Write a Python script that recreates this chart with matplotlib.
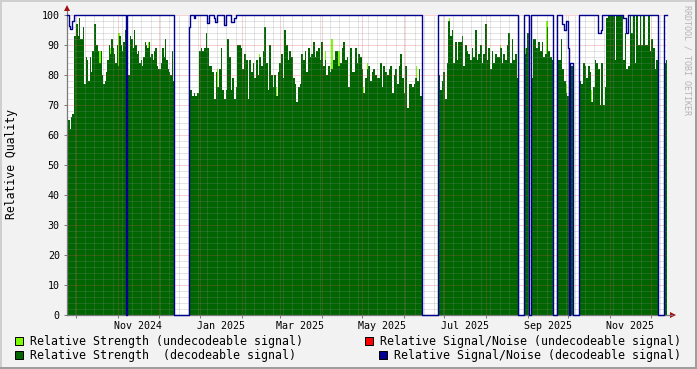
"""RRDtool-style relative quality graph redrawn with matplotlib."""

import datetime as dt

import matplotlib
matplotlib.use("Agg")
import matplotlib.dates as mdates
import matplotlib.pyplot as plt
from matplotlib.lines import Line2D
from matplotlib.patches import Rectangle
from matplotlib.ticker import FixedFormatter, FixedLocator, NullFormatter

W, H = 697, 369
BACK = "#f2f2f2"
GREEN = "#006400"
LIME = "#7cfc00"
RED = "#ff0000"
BLUE = "#000090"
ARROW = "#a01010"
AXIS = "#7a7a7a"
GRID = (0.55, 0.55, 0.55, 0.45)
MGRID = (0.87, 0.31, 0.31, 0.5)
MONO = "DejaVu Sans Mono"

START = dt.datetime(2024, 9, 24)
END = dt.datetime(2025, 12, 13, 2)

# periods that have data (white gaps in between)
seg_start = ["2024-09-24 00:00", "2024-12-23 08:00", "2025-06-26 08:00", "2025-08-29 06:00",
             "2025-09-03 11:00", "2025-09-22 19:00", "2025-10-02 05:00", "2025-10-09 04:00",
             "2025-12-10 14:00"]
seg_end = ["2024-12-12 13:00", "2025-06-14 10:00", "2025-08-24 19:00", "2025-09-01 12:00",
           "2025-09-19 19:00", "2025-10-01 12:00", "2025-10-04 05:00", "2025-12-06 10:00",
           "2025-12-13 02:00"]

# relative strength (decodeable), readings spread evenly over each period
strength_1 = [66, 65, 62, 66, 67, 93, 93, 97, 93, 99, 92, 92, 96, 77, 86, 85, 78, 86, 81, 88,
              97, 97, 90, 88, 84, 88, 80, 77, 78, 81, 85, 90, 87, 92, 89, 87, 84, 90, 83, 93,
              90, 88, 91, 95, 93, 80, 80, 93, 92, 89, 95, 90, 87, 88, 84, 85, 83, 86, 91, 90,
              89, 91, 86, 87, 85, 88, 89, 83, 82, 82, 84, 89, 86, 92, 85, 82, 81, 80, 88, 78]
strength_2 = [75, 75, 73, 74,
              73, 74, 88, 89, 88, 89, 94, 89, 83, 83, 81, 72, 81, 76, 82, 89, 75, 72, 75, 92,
              86, 75, 79, 72, 76, 90, 90, 89, 82, 87, 85, 72, 85, 81, 84, 79, 85, 80, 86, 83,
              88, 96, 84, 75, 90, 80, 76, 80, 73, 81, 84, 87, 79, 95, 90, 85, 88, 86, 79, 77,
              71, 76, 77, 87, 85, 88, 81, 89, 86, 87, 91, 86, 88, 89, 85, 91, 83, 85, 80, 83,
              81,
              82, 85, 88, 88, 83, 84, 89, 91, 85, 86, 76, 89, 81, 81, 89, 84, 87, 86, 82, 74,
              79, 82, 83, 78, 81, 82, 80, 79, 79, 84, 76, 83, 81, 80, 82, 83, 74, 80, 82, 77,
              83, 87, 79, 74, 83, 69, 77, 77, 76, 77, 79, 78, 82, 73]
strength_3 = [80, 75, 78, 81, 72, 84, 98, 93, 95, 84, 91, 85, 91, 91, 93, 83, 90, 88, 87, 85,
              89, 86, 95, 85, 87, 90, 84, 87, 97, 85, 89, 82, 88, 84, 87, 86, 86, 89, 84, 87,
              85, 90, 94, 84, 92, 85, 87, 79]
strength_4 = [87, 89, 94]
strength_5 = [79, 92, 92, 89, 91, 88, 91, 86, 87, 96, 88, 86, 85]
strength_6 = [85, 85, 92, 82, 78, 74, 73]
strength_7 = [82, 83]
strength_8 = [78, 77, 84, 83, 79, 83, 81, 71, 76, 85, 84, 82, 70, 84, 70, 76, 99, 100, 100, 100,
              100, 85, 100, 100, 100, 100, 85, 94, 82, 83, 100, 94, 100, 84, 100, 90, 100, 90,
              100, 90, 90, 100, 88, 92, 89, 82, 85]
strength_9 = [83, 84, 85]
strength = [strength_1, strength_2, strength_3, strength_4, strength_5, strength_6,
            strength_7, strength_8, strength_9]

# relative strength (undecodeable) where it pokes above the decodeable area
weak_dates = ["2024-09-25 21:00", "2024-10-18 12:00", "2024-10-26 00:00", "2024-11-01 12:00",
              "2024-11-14 19:00", "2024-11-23 10:00", "2025-01-13 12:00", "2025-02-14 00:00",
              "2025-02-26 00:00", "2025-03-29 14:00", "2025-04-03 19:00", "2025-04-08 12:00",
              "2025-04-13 17:00", "2025-04-17 10:00", "2025-04-26 02:00", "2025-04-28 00:00",
              "2025-05-02 00:00", "2025-05-05 00:00", "2025-05-09 12:00", "2025-06-02 12:00",
              "2025-06-10 12:00", "2025-07-05 00:00", "2025-08-11 14:00", "2025-08-30 00:00",
              "2025-09-15 00:00", "2025-09-29 07:00", "2025-10-17 19:00"]
weak_values = [64, 88, 89, 94, 89, 91, 82, 87, 76, 89, 88, 92, 88, 87, 86, 87, 76, 84, 81, 71,
               83, 99, 90, 89, 98, 77, 75]

# relative signal/noise (decodeable): 100 inside the periods except these dips
snr_dip_start = ["2024-09-25 06:00", "2024-09-26 11:00", "2024-09-27 23:00", "2024-11-07 00:00",
                 "2024-12-23 08:00", "2024-12-26 22:00", "2025-01-05 22:00", "2025-01-10 19:00",
                 "2025-01-11 17:00", "2025-01-18 05:00", "2025-01-23 22:00", "2025-01-25 19:00",
                 "2025-09-26 02:00", "2025-09-27 19:00", "2025-09-29 07:00", "2025-09-30 10:00",
                 "2025-10-02 05:00", "2025-10-22 19:00", "2025-10-25 07:00", "2025-11-10 10:00",
                 "2025-11-12 10:00"]
snr_dip_end = ["2024-09-26 11:00", "2024-09-27 23:00", "2024-09-28 23:00", "2024-11-07 17:00",
               "2024-12-24 02:00", "2024-12-27 22:00", "2025-01-07 14:00", "2025-01-11 17:00",
               "2025-01-13 07:00", "2025-01-20 00:00", "2025-01-25 19:00", "2025-01-27 10:00",
               "2025-09-27 19:00", "2025-09-29 07:00", "2025-09-30 10:00", "2025-10-01 12:00",
               "2025-10-04 05:00", "2025-10-25 07:00", "2025-10-26 00:00", "2025-11-12 10:00",
               "2025-11-14 02:00"]
snr_dip_value = [96.5, 95.5, 98, 0, 96, 99, 97.2, 99, 97.8, 96.7, 97.8, 99,
                 97, 95, 98, 89, 84, 94, 95, 99, 94]

tick_labels = ["Nov 2024", "Jan 2025", "Mar 2025", "May 2025", "Jul 2025", "Sep 2025", "Nov 2025"]
legend_labels = ["Relative Strength (undecodeable signal)",
                 "Relative Signal/Noise (undecodeable signal)",
                 "Relative Strength  (decodeable signal)",
                 "Relative Signal/Noise (decodeable signal)"]


def num(text):
    return mdates.date2num(dt.datetime.fromisoformat(text))


plt.rcParams["lines.scale_dashes"] = False

fig = plt.figure(figsize=(W / 100, H / 100), dpi=100, facecolor=BACK)
ax = fig.add_axes([67 / W, 54 / H, 600 / W, 300 / H])
ax.set_facecolor("white")
for spine in ax.spines.values():
    spine.set_visible(False)
x0, x1 = mdates.date2num(START), mdates.date2num(END)
ax.set_xlim(x0, x1)
ax.set_ylim(0, 100)

# undecodeable strength first, decodeable area on top of it
ax.bar([num(d) for d in weak_dates], weak_values, width=0.9, color=LIME, linewidth=0, zorder=1)
bounds = []
for a, b, vals in zip(seg_start, seg_end, strength):
    s, e = num(a), num(b)
    bounds.append((s, e))
    n = len(vals)
    edges = [s + (e - s) * i / n for i in range(n + 1)]
    ax.fill_between(edges, vals + [vals[-1]], 0, step="post", color=GREEN, linewidth=0, zorder=2)

# grid: weekly / every 2 minor, monthly / every 10 major, 1px on 1px off
grid_kw = dict(lw=0.72, ls=(0, (0.72, 0.72)), zorder=3)
day = START
while day <= END:
    if day.weekday() == 0 and day.day != 1:
        ax.axvline(mdates.date2num(day), color=GRID, **grid_kw)
    if day.day == 1:
        ax.axvline(mdates.date2num(day), color=MGRID, **grid_kw)
    day += dt.timedelta(days=1)
for y in range(2, 101, 2):
    ax.axhline(y, color=MGRID if y % 10 == 0 else GRID, **grid_kw)

# axes with arrows
ax.plot([0, 0], [0, 1.012], transform=ax.transAxes, color=AXIS, lw=0.9, clip_on=False, zorder=4)
ax.plot([0, 1.008], [0, 0], transform=ax.transAxes, color=AXIS, lw=0.9, clip_on=False, zorder=4)
ax.plot(0, 1.022, marker="^", ms=4.5, color=ARROW, mew=0, transform=ax.transAxes, clip_on=False)
ax.plot(1.010, 0, marker=">", ms=4.5, color=ARROW, mew=0, transform=ax.transAxes, clip_on=False)

# signal/noise line: 0 in the gaps, 100 with dips inside periods
dips = [(num(a), num(b), v) for a, b, v in zip(snr_dip_start, snr_dip_end, snr_dip_value)]
knots = sorted({x0, x1} | {p for se in bounds for p in se} | {p for d in dips for p in d[:2]})
snr = []
for a, b in zip(knots[:-1], knots[1:]):
    mid = (a + b) / 2
    v = 0
    if any(s <= mid < e for s, e in bounds):
        v = 100
        for ds, de, dv in dips:
            if ds <= mid < de:
                v = dv
    snr.append(v)
ax.step(knots, snr + [snr[-1]], where="post", color=BLUE, lw=1.0, zorder=5, clip_on=False)

# ticks
ax.xaxis.set_major_locator(mdates.MonthLocator())
ax.xaxis.set_major_formatter(NullFormatter())
label_pos = [mdates.date2num(dt.datetime.strptime(t, "%b %Y") + dt.timedelta(days=15))
             for t in tick_labels]
ax.xaxis.set_minor_locator(FixedLocator(label_pos))
ax.xaxis.set_minor_formatter(FixedFormatter(tick_labels))
ax.tick_params(axis="x", which="major", length=2.2, width=0.7, color=AXIS)
ax.tick_params(axis="x", which="minor", length=0, pad=4)
ax.set_yticks(range(0, 101, 10))
ax.tick_params(axis="y", length=2.2, width=0.7, color=AXIS, pad=3)
for lab in ax.get_xticklabels(which="minor") + ax.get_yticklabels():
    lab.set_fontfamily(MONO)
    lab.set_fontsize(7.2)

fig.text(12 / W, 1 - 164 / H, "Relative Quality", rotation=90, ha="center", va="center",
         fontfamily=MONO, fontsize=8.3)
fig.text(687 / W, 1 - 60 / H, "RRDTOOL / TOBI OETIKER", rotation=270, ha="center",
         va="center", fontfamily=MONO, fontsize=6, color="#b4b4b4")

# legend, two rows like rrdtool
legend_pos = [(15, 341, 30), (365, 341, 380), (15, 355, 30), (379, 355, 394)]
for (bx, cy, tx), label, color in zip(legend_pos, legend_labels, [LIME, RED, GREEN, BLUE]):
    fig.add_artist(Rectangle((bx / W, 1 - (cy + 4) / H), 8 / W, 8 / H, facecolor=color,
                             edgecolor="black", lw=0.72, transform=fig.transFigure))
    fig.text(tx / W, 1 - cy / H, label, ha="left", va="center", fontfamily=MONO, fontsize=8.35)

# shaded frame
fig.add_artist(Line2D([0, 1], [1 - 1 / H, 1 - 1 / H], color="#cfcfcf", lw=1.44))
fig.add_artist(Line2D([1 / W, 1 / W], [0, 1], color="#cfcfcf", lw=1.44))
fig.add_artist(Line2D([0, 1], [1 / H, 1 / H], color="#9e9e9e", lw=1.44))
fig.add_artist(Line2D([1 - 1 / W, 1 - 1 / W], [0, 1], color="#9e9e9e", lw=1.44))

fig.savefig("out.png", dpi=100, facecolor=BACK)
